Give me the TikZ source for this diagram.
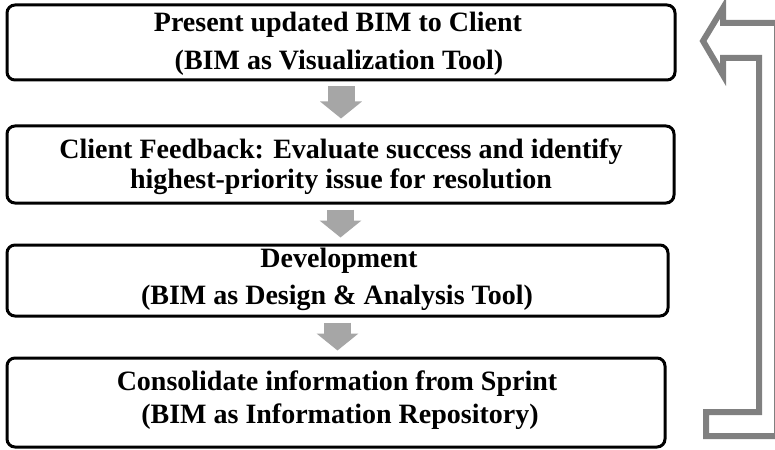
\documentclass[tikz,border=0pt]{standalone}
\usepackage{fontspec}
\setmainfont{Liberation Serif}
\usetikzlibrary{arrows.meta}
\definecolor{flowgray}{HTML}{A6A6A6}
\definecolor{loopgray}{HTML}{808080}
\tikzset{
  stagebox/.style={draw=black, line width=3pt, rounded corners=8pt,
    rectangle, inner sep=0pt},
  lbl/.style={anchor=base, inner sep=0pt, text=black,
    font=\fontsize{28}{30}\selectfont\bfseries},
  flow/.style={draw=flowgray, line width=27pt,
    -{Triangle[length=17pt, width=41pt]}, shorten <=5pt, shorten >=6pt},
  loop/.style={draw=loopgray, line width=6pt, line join=miter}
}
\begin{document}
\begin{tikzpicture}[x=1pt, y=-1pt]
  \useasboundingbox (0,0) rectangle (775,449);
  \fill[white] (0,0) rectangle (775,449);

  % stage boxes
  \node[stagebox, minimum width=668pt, minimum height=75pt] (b1) at (341,42.5) {};
  \node[stagebox, minimum width=667pt, minimum height=77pt] (b2) at (340.5,164.5) {};
  \node[stagebox, minimum width=661pt, minimum height=71pt] (b3) at (337.5,280.5) {};
  \node[stagebox, minimum width=658pt, minimum height=89pt] (b4) at (336,402.5) {};

  % stage texts
  \node[lbl] (t1a) at (338,32) {Present updated BIM to Client};
  \node[lbl] (t1b) at (339,70) {(BIM as Visualization Tool)};
  \node[lbl] (t2a) at (341,158) {Client Feedback: Evaluate success and identify};
  \node[lbl] (t2b) at (341,188) {highest-priority issue for resolution};
  \node[lbl] (t3a) at (339,267) {Development};
  \node[lbl] (t3b) at (337,304) {(BIM as Design \& Analysis Tool)};
  \node[lbl] (t4a) at (337,390) {Consolidate information from Sprint};
  \node[lbl] (t4b) at (340,423) {(BIM as Information Repository)};

  % flow between stages
  \draw[flow] (b1.south) -- (b1.south |- b2.north);
  \draw[flow] (b2.south) -- (b2.south |- b3.north);
  \draw[flow] (b3.south) -- (b3.south |- b4.north);

  % outlined return arrow on the right
  \begin{scope}
    \clip (0,0) rectangle (775,449);
    \draw[loop] (723,8) -- (703,41) -- (723,75) -- (723,58) -- (759,58)
      -- (759,412) -- (706,412) -- (706,436) -- (777,436) -- (777,23)
      -- (723,23) -- cycle;
  \end{scope}
\end{tikzpicture}
\end{document}
